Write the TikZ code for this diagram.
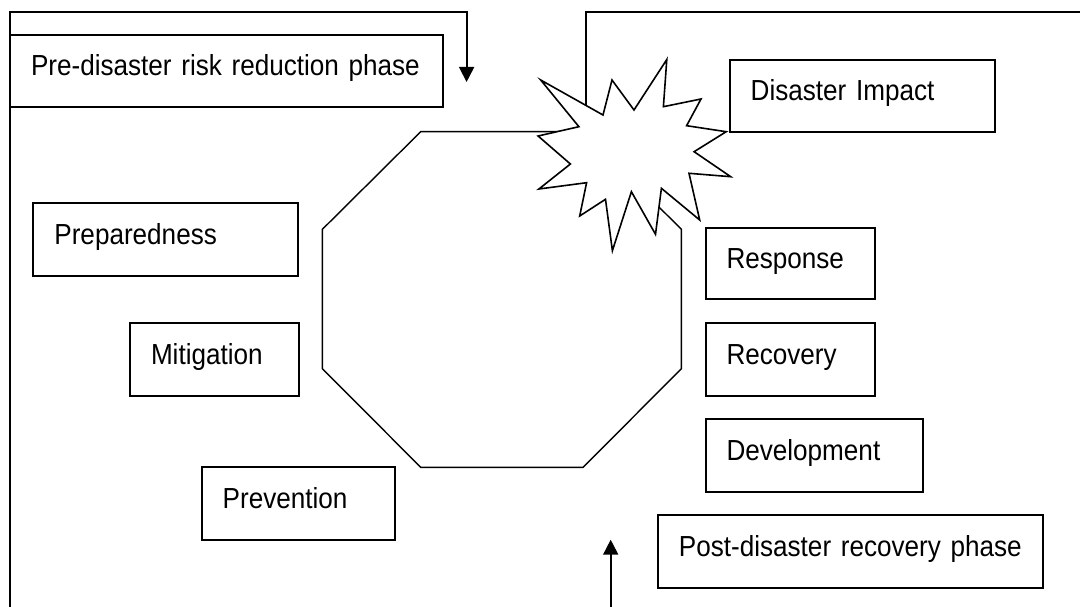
\documentclass[tikz,border=0pt]{standalone}
\usepackage{fontspec}
\newfontfamily\labelfont[FakeStretch=0.9,WordSpace=0.8]{Liberation Sans}
\usetikzlibrary{arrows.meta}
\begin{document}
\begin{tikzpicture}[x=1pt,y=-1pt,
  conn/.style={line width=1.8pt},
  tip/.style={-{Triangle[width=15pt,length=15pt]}},
  octline/.style={line width=1.4pt},
  burstline/.style={line width=1.6pt, fill=white},
  phasebox/.style={draw, line width=2pt, anchor=north west, inner xsep=21pt, inner ysep=0pt,
    outer sep=0pt, text height=41pt, align=left,
    font={\labelfont\fontsize{29pt}{34pt}\selectfont}}
]
\useasboundingbox (0,0) rectangle (1080,607);

% octagon
\draw[octline] (420.7,131.7) -- (583.1,131.7) -- (681.4,229.3) -- (681.4,368.7)
  -- (583.1,467.3) -- (420.7,467.3) -- (322.4,368.7) -- (322.4,229.3) -- cycle;

% connector coordinates
\coordinate (lbot) at (10,607);
\coordinate (ltopl) at (10,11.7);
\coordinate (ltopr) at (466.6,11.7);
\coordinate (larrow) at (466.6,82);
\coordinate (rright) at (1080,11.7);
\coordinate (rleft) at (586,11.7);
\coordinate (burst) at (586,160);
\coordinate (bbot) at (610.7,607);
\coordinate (btip) at (610.7,539.7);

\draw[conn,tip] (lbot) -- (ltopl) -- (ltopr) -- (larrow);
\draw[conn] (rright) -- (rleft) -- (burst);
\draw[conn,tip] (bbot) -- (btip);

% starburst
\draw[burstline] (666.8,59.5) -- (663.4,106.7) -- (701.0,99) -- (686.6,125.7)
  -- (726.2,131.7) -- (694.1,151.7) -- (730.7,176.7) -- (689.0,173.3)
  -- (699.7,220) -- (661.4,188.3) -- (655.5,234.3) -- (631.4,191.7)
  -- (612.4,250.7) -- (605.5,199.3) -- (579.7,216) -- (586.6,182.7)
  -- (538.9,189) -- (570.4,164) -- (538.1,136) -- (578.9,126.7)
  -- (540.7,80) -- (603,115) -- (612,80) -- (634,110) -- cycle;

% boxes
\node[phasebox, text width=391pt, text depth=31pt] (pre) at (10,35)
  {\mbox{Pre-disaster risk reduction phase}};
\node[phasebox, text width=223pt, text depth=32pt] (prep) at (33.4,203)
  {\mbox{Preparedness}};
\node[phasebox, text width=126.6pt, text depth=31.7pt] (mit) at (130,323)
  {\mbox{Mitigation}};
\node[phasebox, text width=151pt, text depth=31.4pt] (prev) at (201.7,467.3)
  {\mbox{Prevention}};
\node[phasebox, text width=223pt, text depth=30.7pt] (dis) at (729.7,60)
  {\mbox{Disaster Impact}};
\node[phasebox, text width=127pt, text depth=30.6pt] (resp) at (705.5,227.7)
  {\mbox{Response}};
\node[phasebox, text width=127pt, text depth=31.7pt] (rec) at (705.5,323)
  {\mbox{Recovery}};
\node[phasebox, text width=175pt, text depth=32pt] (dev) at (705.5,419)
  {\mbox{Development}};
\node[phasebox, text width=343pt, text depth=31.7pt] (post) at (657.9,515.3)
  {\mbox{Post-disaster recovery phase}};
\end{tikzpicture}
\end{document}
